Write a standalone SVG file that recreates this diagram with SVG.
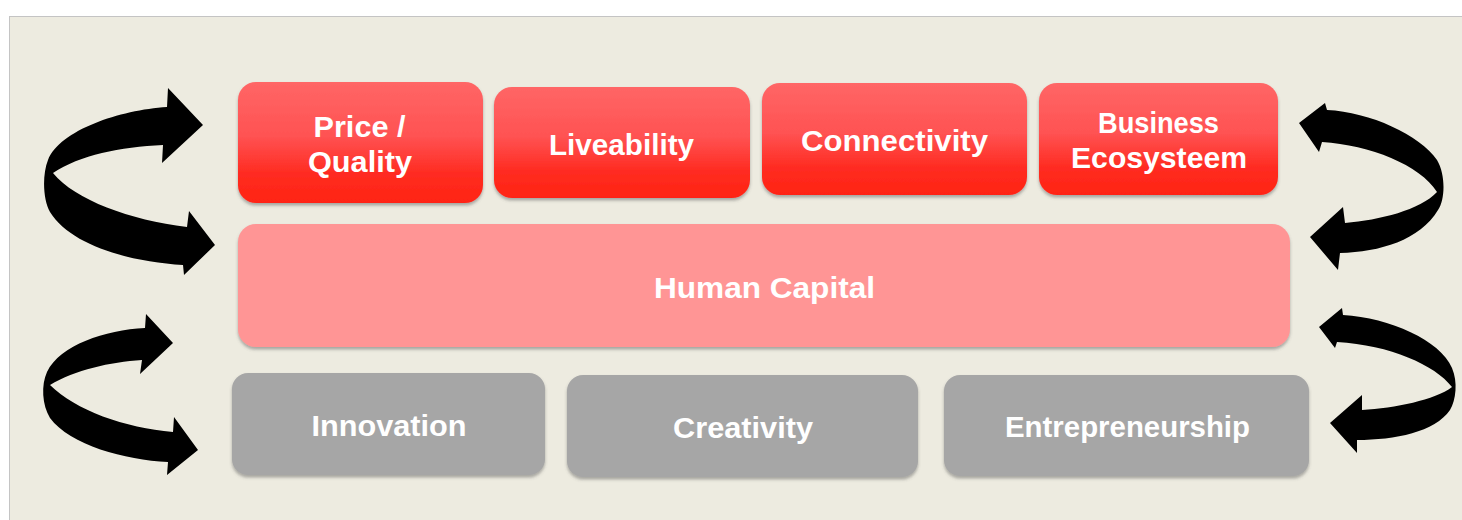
<svg xmlns="http://www.w3.org/2000/svg" width="1462" height="520" viewBox="0 0 1462 520">
  <style>
    .lbl { font-family: "Liberation Sans", Arial, sans-serif; font-weight: bold; font-size: 29px; fill: #ffffff; text-anchor: middle; }
    .red { fill: url(#redGrad); filter: url(#shadow); }
    .pink { fill: #FF9595; filter: url(#shadow); }
    .gray { fill: #A6A6A6; filter: url(#shadow); }
    .arrow { fill: #000000; }
  </style>
  <defs>
    <linearGradient id="redGrad" x1="0" y1="0" x2="0" y2="1">
      <stop offset="0" stop-color="#FF6666"/>
      <stop offset="0.45" stop-color="#FF5252"/>
      <stop offset="0.75" stop-color="#FF2C22"/>
      <stop offset="1" stop-color="#FF2412"/>
    </linearGradient>
    <filter id="shadow" x="-5%" y="-10%" width="110%" height="125%">
      <feDropShadow dx="0" dy="2.5" stdDeviation="1.5" flood-color="#555555" flood-opacity="0.45"/>
    </filter>
  </defs>

  <rect x="0" y="0" width="1462" height="520" fill="#ffffff"/>
  <rect x="9.5" y="16.5" width="1462" height="515" fill="#EDEBE0" stroke="#C4C4C4" stroke-width="1"/>

  <g id="connectors">
    <path id="arrow-left-top" class="arrow" d="M203,125 L168,88 L167,107 C120,110 60,130 48,160 C42,175 43,200 50,212 C70,245 130,262 183,265 L184,275 L215,245 L189,211 L187,227 C130,220 75,200 53,173 C80,155 120,147 163,145 L162,163 Z"/>
    <path id="arrow-left-bottom" class="arrow" d="M173,343 L146,314 L145,328 C105,330 60,345 47,372 C41,385 42,405 50,418 C70,445 125,460 168,462 L167,475 L198,450 L174,417 L173,432 C125,428 75,410 50,385 C75,370 110,362 142,360 L140,374 Z"/>
    <path id="arrow-right-top" class="arrow" d="M1299,123 L1325,103 L1327,110 C1370,112 1420,135 1437,160 C1446,175 1445,200 1438,210 C1420,240 1380,252 1340,253 L1338,270 L1310,237 L1343,207 L1345,223 C1380,220 1420,210 1437,192 C1420,165 1370,145 1322,142 L1319,152 Z"/>
    <path id="arrow-right-bottom" class="arrow" d="M1319,327 L1342,308 L1343,315 C1390,318 1440,340 1452,368 C1458,382 1456,400 1450,410 C1435,432 1395,440 1357,440 L1357,453 L1330,423 L1362,395 L1362,410 C1395,408 1435,400 1452,387 C1435,365 1390,345 1337,342 L1335,348 Z"/>
  </g>

  <g id="price-quality">
    <rect class="red" x="238" y="82" width="245" height="121" rx="18"/>
    <text class="lbl" x="359.5" y="137" textLength="92" lengthAdjust="spacingAndGlyphs">Price /</text>
    <text class="lbl" x="360" y="172" textLength="104" lengthAdjust="spacingAndGlyphs">Quality</text>
  </g>
  <g id="liveability">
    <rect class="red" x="494" y="87" width="256" height="111" rx="18"/>
    <text class="lbl" x="621.5" y="155" textLength="145" lengthAdjust="spacingAndGlyphs">Liveability</text>
  </g>
  <g id="connectivity">
    <rect class="red" x="762" y="83" width="265" height="112" rx="18"/>
    <text class="lbl" x="894.5" y="151" textLength="187" lengthAdjust="spacingAndGlyphs">Connectivity</text>
  </g>
  <g id="business-ecosysteem">
    <rect class="red" x="1039" y="83" width="239" height="112" rx="18"/>
    <text class="lbl" x="1158.5" y="133" textLength="121" lengthAdjust="spacingAndGlyphs">Business</text>
    <text class="lbl" x="1159" y="168" textLength="176" lengthAdjust="spacingAndGlyphs">Ecosysteem</text>
  </g>
  <g id="human-capital">
    <rect class="pink" x="238" y="224" width="1052" height="123" rx="18"/>
    <text class="lbl" x="764.5" y="298" textLength="221" lengthAdjust="spacingAndGlyphs">Human Capital</text>
  </g>
  <g id="innovation">
    <rect class="gray" x="232" y="373" width="313" height="102" rx="16"/>
    <text class="lbl" x="389" y="436" textLength="155" lengthAdjust="spacingAndGlyphs">Innovation</text>
  </g>
  <g id="creativity">
    <rect class="gray" x="567" y="375" width="351" height="102" rx="16"/>
    <text class="lbl" x="743" y="438" textLength="140" lengthAdjust="spacingAndGlyphs">Creativity</text>
  </g>
  <g id="entrepreneurship">
    <rect class="gray" x="944" y="375" width="365" height="101" rx="16"/>
    <text class="lbl" x="1127.5" y="437" textLength="245" lengthAdjust="spacingAndGlyphs">Entrepreneurship</text>
  </g>
</svg>
